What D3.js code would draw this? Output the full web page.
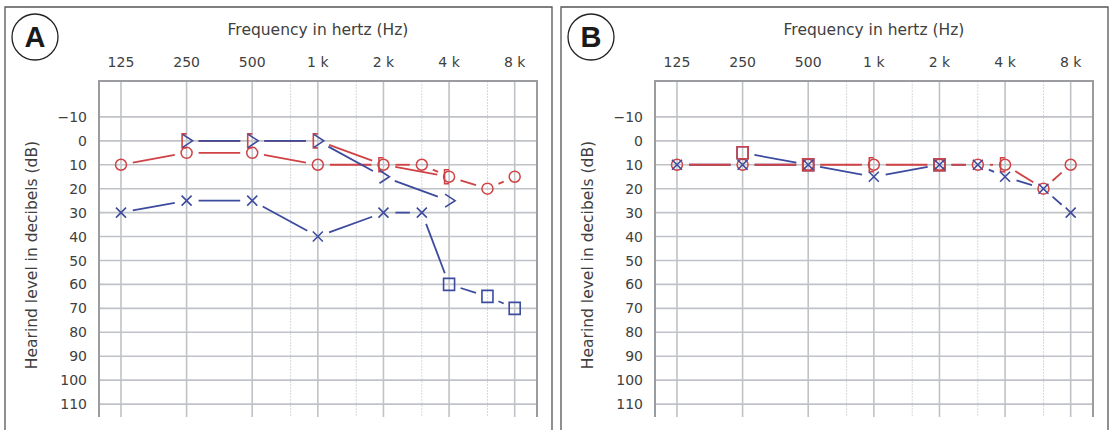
<!DOCTYPE html>
<html>
<head>
<meta charset="utf-8">
<script src="https://cdn.jsdelivr.net/npm/d3@7"></script>
<style>
  body { margin: 0; background: #fff; }
  text { font-family: "DejaVu Sans", sans-serif; fill: #404040; }
</style>
</head>
<body>
<div id="chart"></div>
<script>
// axis ticks
var freqTicks = [125, 250, 500, 1000, 2000, 4000, 8000];
var freqTickLabels = ["125", "250", "500", "1 k", "2 k", "4 k", "8 k"];
var halfOctaves = [750, 1500, 3000, 6000];
var dbTicks = [-10, 0, 10, 20, 30, 40, 50, 60, 70, 80, 90, 100, 110];

// panel A
var aRightAirHz = [125, 250, 500, 1000, 2000, 3000, 4000, 6000, 8000];
var aRightAirDb = [10, 5, 5, 10, 10, 10, 15, 20, 15];
var aRightBoneHz = [250, 500, 1000, 2000, 4000];
var aRightBoneDb = [0, 0, 0, 10, 15];
var aLeftBoneHz = [250, 500, 1000, 2000, 4000];
var aLeftBoneDb = [0, 0, 0, 15, 25];
var aLeftAirHz = [125, 250, 500, 1000, 2000, 3000, 4000, 6000, 8000];
var aLeftAirDb = [30, 25, 25, 40, 30, 30, 60, 65, 70];
var aLeftAirMark = ["x", "x", "x", "x", "x", "x", "square", "square", "square"];

// panel B
var bRightAirHz = [125, 250, 500, 1000, 2000, 3000, 4000, 6000, 8000];
var bRightAirDb = [10, 10, 10, 10, 10, 10, 10, 20, 10];
var bLeftAirHz = [125, 250, 500, 1000, 2000, 3000, 4000, 6000, 8000];
var bLeftAirDb = [10, 10, 10, 15, 10, 10, 15, 20, 30];
var bLeftMaskHz = [250, 500];
var bLeftMaskDb = [5, 10];
var bLeftMask2Hz = [2000];
var bLeftMask2Db = [10];
var bRightMaskHz = [250, 500, 2000];
var bRightMaskDb = [5, 10, 10];
var bRightBoneHz = [1000, 4000];
var bRightBoneDb = [10, 10];

var red = "#cf4245", blue = "#3d4b9e";

function series(hz, db, mark, color, line, layer) {
    var pts = hz.map(function (f, i) {
        return { f: f, db: db[i], m: Array.isArray(mark) ? mark[i] : mark };
    });
    return { pts: pts, color: color, line: line, layer: layer };
}

// layer: order the symbols are stacked in (lines follow the list order)
var panels = [
    { label: "A", left: 5, series: [
        series(aRightAirHz, aRightAirDb, "circle", red, true, 0),
        series(aRightBoneHz, aRightBoneDb, "bracket", red, true, 1),
        series(aLeftAirHz, aLeftAirDb, aLeftAirMark, blue, true, 2),
        series(aLeftBoneHz, aLeftBoneDb, "gt", blue, true, 3)
    ] },
    { label: "B", left: 561, series: [
        series(bLeftMaskHz, bLeftMaskDb, "square", blue, true, 1),
        series(bLeftMask2Hz, bLeftMask2Db, "square", blue, false, 1),
        series(bLeftAirHz, bLeftAirDb, "x", blue, true, 4),
        series(bRightAirHz, bRightAirDb, "circle", red, true, 0),
        series(bRightMaskHz, bRightMaskDb, "square", red, false, 2),
        series(bRightBoneHz, bRightBoneDb, "bracket", red, false, 3)
    ] }
];

var W = 1110, H = 430;
var panelW = 547, plotOff = 94, plotW = 438, plotTop = 81, plotBottom = 417;

var svg = d3.select("#chart").append("svg")
    .attr("width", W)
    .attr("height", H);

function symbolPath(m) {
    if (m === "x") return "M-5,-5L5,5M5,-5L-5,5";
    if (m === "square") return "M-5.5,-6H5.5V6H-5.5Z";
    if (m === "bracket") return "M0,-7H-4.5V7H0";
    if (m === "gt") return "M-4,-6.5L6,0L-4,6.5";
}

panels.forEach(function (p) {
    var g = svg.append("g").attr("transform", "translate(" + p.left + ",0)");

    // panel frame (open at the bottom)
    g.append("path")
        .attr("d", "M0," + (H + 5) + "V7H" + panelW + "V" + (H + 5))
        .attr("fill", "none")
        .attr("stroke", "#555")
        .attr("stroke-width", 1.3);

    g.append("circle")
        .attr("cx", 30).attr("cy", 37).attr("r", 23)
        .attr("fill", "none").attr("stroke", "#222").attr("stroke-width", 1.3);
    g.append("text")
        .attr("x", 30).attr("y", 47)
        .attr("text-anchor", "middle")
        .style("font-family", "'Liberation Sans', Arial, sans-serif")
        .style("font-weight", "bold")
        .style("font-size", "29px")
        .style("fill", "#1a1a1a")
        .text(p.label);

    var x = d3.scaleLog().base(2)
        .domain([125 * Math.pow(2, -0.335), 8000 * Math.pow(2, 0.34)])
        .range([plotOff, plotOff + plotW]);
    var y = d3.scaleLinear().domain([-25, 115.4]).range([plotTop, plotBottom]);

    // half-octave grid
    g.selectAll(".half").data(halfOctaves).enter().append("line")
        .attr("x1", function (d) { return x(d); }).attr("x2", function (d) { return x(d); })
        .attr("y1", plotTop).attr("y2", plotBottom)
        .attr("stroke", "#d6d9dc").attr("stroke-width", 1)
        .attr("stroke-dasharray", "2,1");

    // main grid
    g.selectAll(".vgrid").data(freqTicks).enter().append("line")
        .attr("x1", function (d) { return x(d); }).attr("x2", function (d) { return x(d); })
        .attr("y1", plotTop).attr("y2", plotBottom)
        .attr("stroke", "#bfc2c6").attr("stroke-width", 1.6);
    g.selectAll(".hgrid").data(dbTicks).enter().append("line")
        .attr("x1", plotOff).attr("x2", plotOff + plotW)
        .attr("y1", function (d) { return y(d); }).attr("y2", function (d) { return y(d); })
        .attr("stroke", "#bfc2c6").attr("stroke-width", 1.6);

    // plot frame: left, top, right
    g.append("path")
        .attr("d", "M" + plotOff + "," + plotBottom + "V" + plotTop + "H" + (plotOff + plotW) + "V" + plotBottom)
        .attr("fill", "none").attr("stroke", "#9a9ca0").attr("stroke-width", 2);

    // tick labels
    g.selectAll(".xt").data(freqTicks).enter().append("text")
        .attr("x", function (d) { return x(d); }).attr("y", 67)
        .attr("text-anchor", "middle")
        .style("font-size", "14px")
        .text(function (d, i) { return freqTickLabels[i]; });
    g.selectAll(".yt").data(dbTicks).enter().append("text")
        .attr("x", plotOff - 12).attr("y", function (d) { return y(d); })
        .attr("dy", "0.36em")
        .attr("text-anchor", "end")
        .style("font-size", "14px")
        .text(function (d) { return d < 0 ? "\u2212" + Math.abs(d) : d; });

    g.append("text")
        .attr("x", plotOff + plotW / 2).attr("y", 35)
        .attr("text-anchor", "middle")
        .style("font-size", "15.5px")
        .text("Frequency in hertz (Hz)");
    g.append("text")
        .attr("transform", "translate(32,255)rotate(-90)")
        .attr("text-anchor", "middle")
        .style("font-size", "15.5px")
        .text("Hearind level in decibels (dB)");

    // connecting lines, trimmed back from the symbols
    var gap = 12;
    p.series.filter(function (s) { return s.line; }).forEach(function (s) {
        var segs = d3.pairs(s.pts).map(function (pr) {
            var x1 = x(pr[0].f), y1 = y(pr[0].db), x2 = x(pr[1].f), y2 = y(pr[1].db);
            var len = Math.hypot(x2 - x1, y2 - y1), ux = (x2 - x1) / len, uy = (y2 - y1) / len;
            return { x1: x1 + ux * gap, y1: y1 + uy * gap, x2: x2 - ux * gap, y2: y2 - uy * gap, ok: len > 2 * gap };
        }).filter(function (d) { return d.ok; });
        g.selectAll(null).data(segs).enter().append("line")
            .attr("x1", function (d) { return d.x1; }).attr("y1", function (d) { return d.y1; })
            .attr("x2", function (d) { return d.x2; }).attr("y2", function (d) { return d.y2; })
            .attr("stroke", s.color).attr("stroke-width", 1.8);
    });

    // symbols
    p.series.slice().sort(function (a, b) { return a.layer - b.layer; }).forEach(function (s) {
        var sym = g.selectAll(null).data(s.pts).enter().append("g")
            .attr("transform", function (d) { return "translate(" + x(d.f) + "," + y(d.db) + ")"; });
        sym.filter(function (d) { return d.m === "circle"; }).append("circle")
            .attr("r", 5.5).attr("fill", "none").attr("stroke", s.color).attr("stroke-width", 1.5);
        sym.filter(function (d) { return d.m !== "circle"; }).append("path")
            .attr("d", function (d) { return symbolPath(d.m); })
            .attr("fill", "none").attr("stroke", s.color).attr("stroke-width", 1.6);
    });
});
</script>
</body>
</html>
